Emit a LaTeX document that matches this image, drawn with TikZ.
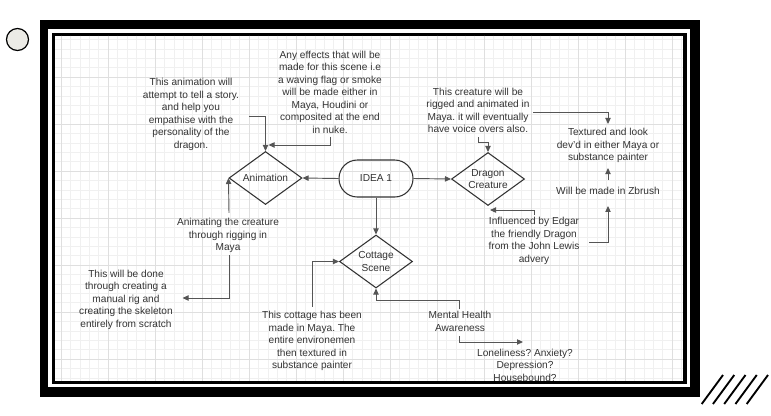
\documentclass[tikz,border=0pt]{standalone}
\usepackage{fontspec}
\setmainfont{Liberation Sans}
\usetikzlibrary{shapes.geometric, arrows.meta, calc, positioning}
\definecolor{inktext}{HTML}{333333}
\definecolor{inkline}{HTML}{555555}
\definecolor{gridminor}{HTML}{F0F0F0}
\definecolor{gridmajor}{HTML}{DFDFDF}
\definecolor{dotfill}{HTML}{ECEBE6}
\newcommand{\notefont}{\fontsize{7.6}{9.4}\selectfont}
\frenchspacing

\tikzset{
  note/.style={font=\notefont, text=inktext, align=center, inner sep=0pt},
  decision/.style={diamond, draw=inktext, line width=0.8pt, aspect=1.38,
    minimum width=54.75pt, minimum height=39.75pt, inner sep=0pt,
    font=\notefont, text=inktext, align=center},
  startbox/.style={draw=inktext, line width=0.8pt, rounded corners=13.8pt,
    minimum width=55.5pt, minimum height=27.75pt, font=\notefont, text=inktext},
  link/.style={draw=inkline, line width=0.7pt, -{Triangle[length=4.5pt,width=4pt]}},
}

\begin{document}
\begin{tikzpicture}[x=0.75pt, y=-0.75pt]
    \useasboundingbox (0,0) rectangle (771,415);

    % Draw the double frame
    \fill[black] (40,20) rectangle (700,397);
    \fill[white] (48.3,29.3) rectangle (690,387);
    \fill[black] (51.5,32.5) rectangle (687,384);
    \fill[white] (55,35.7) rectangle (683,381);

    % Draw the grid paper
    \foreach \k in {0,...,66} {
        \draw[gridminor, line width=0.45pt] ({61+9.4*\k},35.7) -- ({61+9.4*\k},381);
    }
    \foreach \k in {-4,...,32} {
        \draw[gridminor, line width=0.45pt] (55,{77+9.4*\k}) -- (683,{77+9.4*\k});
    }
    \foreach \k in {0,...,13} {
        \draw[gridmajor, line width=0.5pt] ({61+47*\k},35.7) -- ({61+47*\k},381);
    }
    \foreach \k in {0,...,6} {
        \draw[gridmajor, line width=0.5pt] (55,{77+47*\k}) -- (683,{77+47*\k});
    }

    % Decorations outside the frame
    \filldraw[fill=dotfill, draw=black, line width=0.9pt] (17.5,39.5) circle[radius=11];
    \foreach \i in {0,...,4} {
        \draw[black, line width=1.4pt] ({701.7+11.25*\i},404) -- ({723+11.25*\i},375);
    }

    % Main shapes
    \node[startbox] (idea) at (376,178.5) {IDEA 1};
    \node[decision] (anim) at (265.5,178) {Animation};
    \node[decision] (dragon) at (488,179) {Dragon\\Creature};
    \node[decision] (cottage) at (376,261.5) {Cottage\\Scene};

    % Notes
    \node[note] (story) at (191,114.5) {This animation will\\attempt to tell a story.\\and help you\\empathise with the\\personality of the\\dragon.};
    \node[note] (effects) at (330,92) {Any effects that will be\\made for this scene i.e\\a waving flag or smoke\\will be made either in\\Maya, Houdini or\\composited at the end\\in nuke.};
    \node[note] (rigged) at (478,110.5) {This creature will be\\rigged and animated in\\Maya. it will eventually\\have voice overs also.};
    \node[note] (textured) at (608,145.5) {Textured and look\\dev'd in either Maya or\\substance painter};
    \node[note] (zbrush) at (608,191) {Will be made in Zbrush};
    \node[note] (animating) at (228,235.5) {Animating the creature\\through rigging in\\Maya};
    \node[note] (manual) at (126,299.5) {This will be done\\through creating a\\manual rig and\\creating the skeleton\\entirely from scratch};
    \node[note] (cottagetxt) at (312,341) {This cottage has been\\made in Maya. The\\entire environemen\\then textured in\\substance painter};
    \node[note] (mental) at (460,321.5) {Mental Health\\Awareness};
    \node[note] (lonely) at (525,365) {Loneliness? Anxiety?\\Depression?\\Housebound?};
    \node[note] (edgar) at (534,241) {Influenced by Edgar\\the friendly Dragon\\from the John Lewis\\advery};

    % Connect the idea to its branches
    \draw[link] (idea.west) -- (anim.east);
    \draw[link] (idea.east) -- (dragon.west);
    \draw[link] (idea.south) -- (cottage.north);

    % Animation branch
    \draw[link] ($(story.east)+(10,1.5)$) -| (anim.north);
    \draw[link] ($(effects.south)+(0,3)$) |- ($(anim.north)+(3,-6)$);
    \draw[link] ($(animating.north)+(1,-5)$) -- (anim.west);
    \draw[link] ($(animating.south)+(1,2)$) |- ($(manual.east)+(9.5,-1.5)$);

    % Dragon branch
    \draw[link] ($(rigged.south)+(0,4)$) -- ++(0,5) -| (dragon.north);
    \draw[link] ($(rigged.east)+(3,1.5)$) -| ($(textured.north)+(0,-4)$);
    \draw[link] ($(zbrush.north)+(0,-7)$) -- ($(textured.south)+(0,5)$);
    \draw[link] ($(edgar.east)+(9.5,1)$) -| ($(zbrush.south)+(0,11)$);
    \draw[link] ($(edgar.north)+(0,-2)$) |- ($(dragon.south)+(2,4)$);

    % Cottage branch
    \draw[link] ($(cottagetxt.north)+(0,-4)$) |- (cottage.west);
    \draw[link] ($(mental.north)+(-1,-2)$) -- ++(0,-9) -| (cottage.south);
    \draw[link] ($(mental.south)+(-1,4)$) |- ($(lonely.north)+(-2,-6.5)$);
\end{tikzpicture}
\end{document}
